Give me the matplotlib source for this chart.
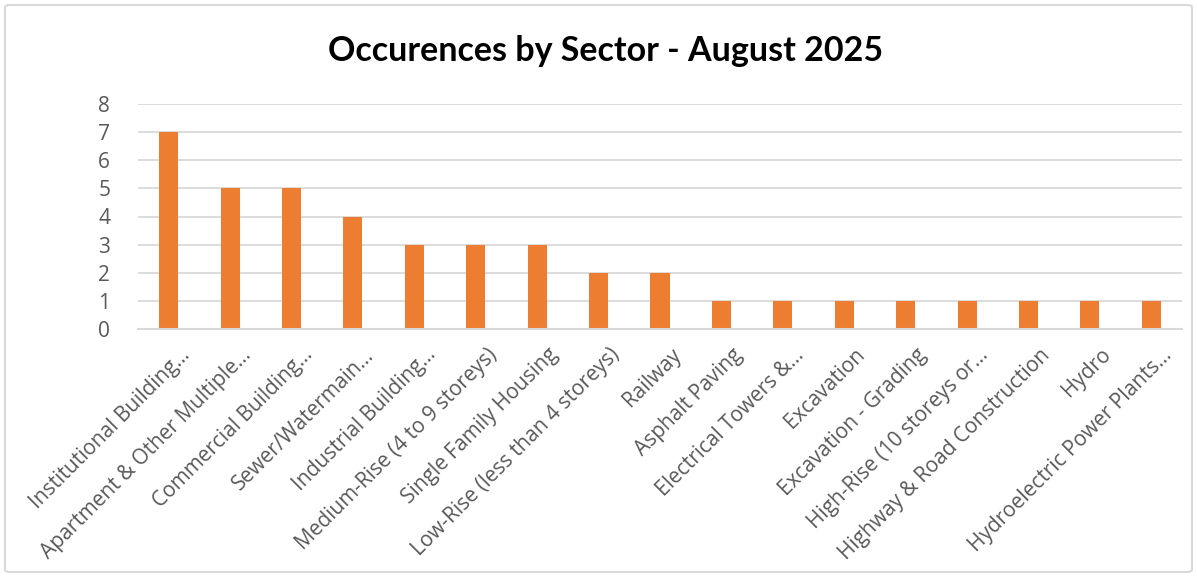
import matplotlib
matplotlib.use("Agg")
import matplotlib.pyplot as plt
from matplotlib.patches import FancyBboxPatch
from matplotlib.transforms import ScaledTranslation

plt.rcParams["font.family"] = ["Open Sans", "DejaVu Sans"]

categories = [
    "Institutional Building…",
    "Apartment & Other Multiple…",
    "Commercial Building…",
    "Sewer/Watermain…",
    "Industrial Building…",
    "Medium-Rise (4 to 9 storeys)",
    "Single Family Housing",
    "Low-Rise (less than 4 storeys)",
    "Railway",
    "Asphalt Paving",
    "Electrical Towers &…",
    "Excavation",
    "Excavation - Grading",
    "High-Rise (10 storeys or…",
    "Highway & Road Construction",
    "Hydro",
    "Hydroelectric Power Plants…",
]
values = [7, 5, 5, 4, 3, 3, 3, 2, 2, 1, 1, 1, 1, 1, 1, 1, 1]
yticks = [0, 1, 2, 3, 4, 5, 6, 7, 8]
title = "Occurences by Sector - August 2025"

W, H = 1197, 577
fig = plt.figure(figsize=(W / 100, H / 100), dpi=100)
fig.patch.set_facecolor("white")

# chart border
border = FancyBboxPatch((5 / W, 5 / H), (W - 10) / W, (H - 10) / H,
                        boxstyle="round,pad=0,rounding_size=0.004",
                        transform=fig.transFigure, facecolor="none",
                        edgecolor="#d9d9d9", linewidth=1.5, zorder=0)
fig.patches.append(border)

ax = fig.add_axes([138 / W, 1 - 329 / H, (1182 - 138) / W, (329 - 104) / H])
ax.set_facecolor("none")
x = list(range(len(categories)))
ax.bar(x, values, width=0.31, color="#ED7D31", zorder=3)
ax.set_xlim(-0.5, len(categories) - 0.5)
ax.set_ylim(0, 8)
ax.grid(axis="y", color="#d9d9d9", linewidth=1.3, zorder=0)
for s in ["top", "right", "left"]:
    ax.spines[s].set_visible(False)
ax.spines["bottom"].set_color("#d9d9d9")
ax.spines["bottom"].set_linewidth(1.5)
ax.spines["bottom"].set_zorder(4)
ax.tick_params(axis="both", length=0)
ax.tick_params(axis="y", pad=20, labelsize=15, labelcolor="#595959")
ax.set_yticks(yticks)
ax.set_yticklabels([str(t) for t in yticks], fontsize=15, color="#595959")
ax.set_xticks(x)
ax.set_xticklabels(categories, rotation=45, ha="right", rotation_mode="anchor",
                   fontsize=15, color="#595959", va="center")
off = ScaledTranslation(18 / 100, -18 / 100, fig.dpi_scale_trans)
for lbl in ax.get_xticklabels():
    lbl.set_transform(lbl.get_transform() + off)

fig.text(606 / W, 1 - 51 / H, title, ha="center", va="center",
         fontsize=24.5, fontweight="bold", family="Lato", color="black")

fig.savefig("out.png", dpi=100, facecolor="white")
